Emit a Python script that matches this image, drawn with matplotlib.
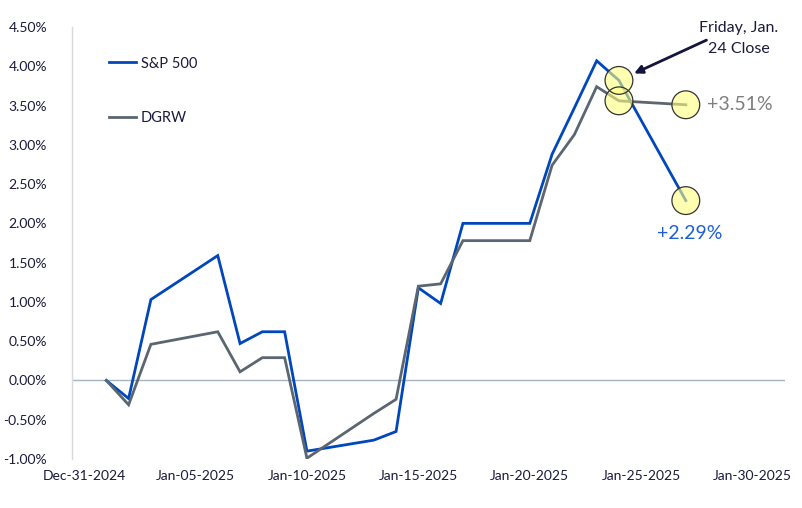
import matplotlib
matplotlib.use("Agg")
import matplotlib.pyplot as plt
import matplotlib.dates as mdates
import numpy as np
import pandas as pd

dates = ["2025-01-01", "2025-01-02", "2025-01-03", "2025-01-06", "2025-01-07",
         "2025-01-08", "2025-01-09", "2025-01-10", "2025-01-13", "2025-01-14",
         "2025-01-15", "2025-01-16", "2025-01-17", "2025-01-20", "2025-01-21",
         "2025-01-22", "2025-01-23", "2025-01-24", "2025-01-27"]
sp500 = [0.00, -0.23, 1.03, 1.59, 0.47, 0.62, 0.62, -0.90, -0.76, -0.65,
         1.18, 0.98, 2.00, 2.00, 2.88, 3.47, 4.07, 3.82, 2.29]
dgrw = [0.00, -0.31, 0.46, 0.62, 0.11, 0.29, 0.29, -0.99, -0.42, -0.24,
        1.20, 1.23, 1.78, 1.78, 2.74, 3.13, 3.74, 3.56, 3.51]
xtick_dates = ["2024-12-31", "2025-01-05", "2025-01-10", "2025-01-15",
               "2025-01-20", "2025-01-25", "2025-01-30"]
yticks = [-1.0, -0.5, 0.0, 0.5, 1.0, 1.5, 2.0, 2.5, 3.0, 3.5, 4.0, 4.5]
highlight_dates = ["2025-01-24", "2025-01-27"]

d = pd.to_datetime(dates)
xt = pd.to_datetime(xtick_dates)

plt.rcParams['font.family'] = ['Lato', 'DejaVu Sans']

BLUE = '#0047BB'
GRAY = '#5B6670'
TXT = '#1a1a3c'

fig = plt.figure(figsize=(8.02, 5.08), dpi=100)
ax = fig.add_axes([72/802, 1-459/508, (785-72)/802, (459-27)/508])

ax.axhline(0, color='#A7B4C6', lw=1.0, zorder=1)
ax.plot(d, sp500, color=BLUE, lw=2.0, label='S&P 500', zorder=3, solid_joinstyle='miter')
ax.plot(d, dgrw, color=GRAY, lw=2.0, label='DGRW', zorder=3, solid_joinstyle='miter')

hd = pd.to_datetime(highlight_dates)
idx = [dates.index(h) for h in highlight_dates]
for series in (sp500, dgrw):
    ax.scatter(hd, [series[i] for i in idx], s=400, facecolor='#FFFF80', alpha=0.6,
               edgecolor='none', zorder=4)
    ax.scatter(hd, [series[i] for i in idx], s=400, facecolor='none',
               edgecolor='#333333', lw=0.9, zorder=5)

x0 = pd.Timestamp("2024-12-31")
ax.set_xlim(mdates.date2num(x0) - 0.54, mdates.date2num(x0) + 31.45)
ax.set_ylim(-1.0, 4.5)
ax.set_xticks(xt)
ax.set_xticklabels([t.strftime('%b-%d-%Y') for t in xt], fontsize=10, color=TXT)
ax.set_yticks(yticks)
ax.set_yticklabels([f"{v:.2f}%" for v in yticks], fontsize=10, color=TXT)
ax.tick_params(axis='both', length=0, pad=8)
ax.tick_params(axis='y', pad=18)
for s in ['top', 'right', 'bottom']:
    ax.spines[s].set_visible(False)
ax.spines['left'].set_color('#D9D9D9')
ax.spines['left'].set_linewidth(1.0)

leg = ax.legend(loc='upper left', bbox_to_anchor=(0.033, 0.962), frameon=False,
                fontsize=10.5, handlelength=1.9, handletextpad=0.3, labelspacing=2.8)
for t in leg.get_texts():
    t.set_color(TXT)

ax.annotate("+3.51%", xy=(hd[1], dgrw[-1]), xytext=(15, 0), textcoords='offset points',
            fontsize=14, color='#7F7F7F', va='center', ha='left')
ax.annotate("+2.29%", xy=(hd[1], sp500[-1]), xytext=(3, -24), textcoords='offset points',
            fontsize=14, color='#1F5FD6', va='center', ha='center')
ax.annotate("Friday, Jan.\n24 Close", xy=(hd[0], sp500[idx[0]]), xytext=(86, 30),
            textcoords='offset points', fontsize=11.5, color=TXT, ha='center', va='center',
            linespacing=1.6)
ax.annotate("", xy=(hd[0], sp500[idx[0]]), xytext=(63, 29),
            textcoords='offset points',
            arrowprops=dict(arrowstyle='-|>', color='#14143c', lw=2.0,
                            shrinkA=0, shrinkB=12, mutation_scale=12))

fig.savefig("out.png", dpi=100)
